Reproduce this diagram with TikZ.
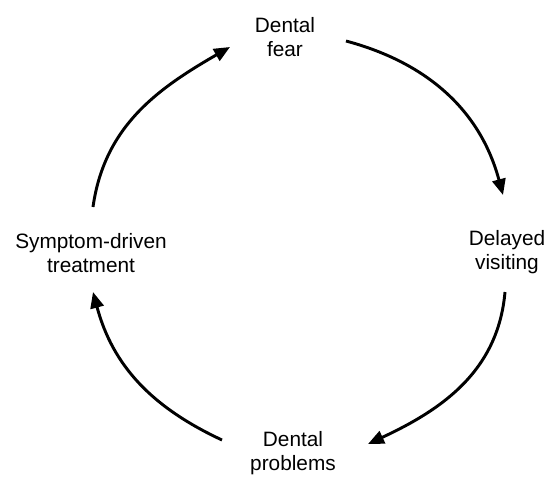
\documentclass[tikz,border=0pt]{standalone}
\usepackage{fontspec}
\setmainfont{Liberation Sans}
\usepackage{tikz}
\usetikzlibrary{arrows.meta}

\begin{document}
\begin{tikzpicture}[x = .75pt, y = .75pt,
    label/.style = {align = center, inner sep = 0, font = \fontsize{15.6}{18}\selectfont},
    cycle/.style = {line width = 2.2pt, -{Triangle[length = 12pt, width = 10pt]}}]
  \useasboundingbox (0, 0) rectangle (549, 476);
  \node[label] (fear) at (285, 439) {Dental\\fear};
  \node[label] (visit) at (507, 224) {Delayed\\visiting};
  \node[label] (problems) at (293, 23) {Dental\\problems};
  \node[label] (treat) at (91, 222.5) {Symptom-driven\\treatment};
  \coordinate (treat-out) at (93, 269);
  \coordinate (fear-in) at (230, 429);
  \coordinate (fear-out) at (346, 435);
  \coordinate (visit-in) at (503, 281);
  \coordinate (visit-out) at (505, 184);
  \coordinate (problems-in) at (368, 32);
  \coordinate (problems-out) at (222, 36);
  \coordinate (treat-in) at (93, 184);
  \draw[cycle] (treat-out) to [out = 82, in = 210] (fear-in);
  \draw[cycle] (fear-out) to [out = -15, in = 105] (visit-in);
  \draw[cycle] (visit-out) to [out = -95, in = 25] (problems-in);
  \draw[cycle] (problems-out) to [out = 155, in = -75] (treat-in);
\end{tikzpicture}
\end{document}
